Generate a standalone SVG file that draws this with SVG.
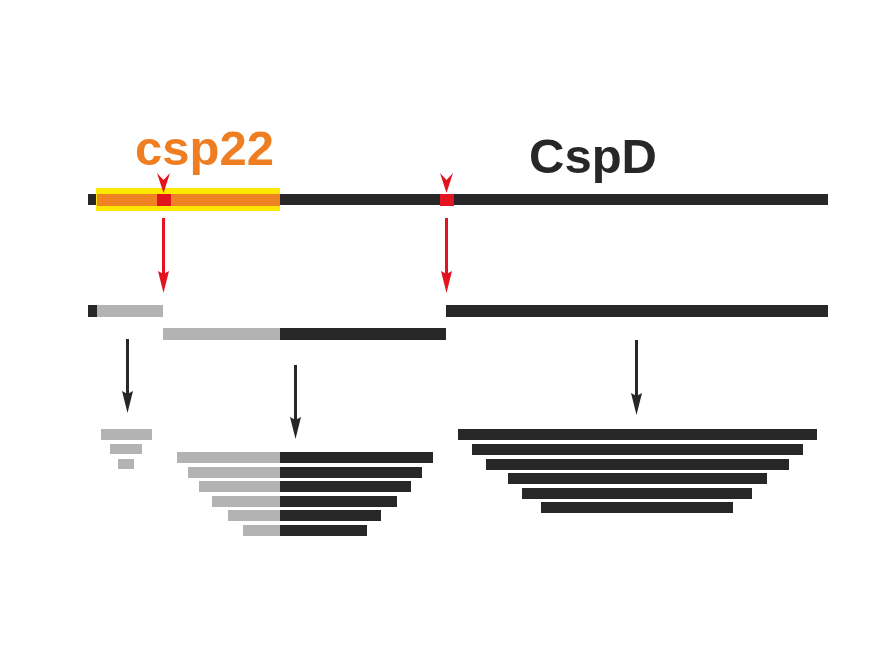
<svg xmlns="http://www.w3.org/2000/svg" width="893" height="657" viewBox="0 0 893 657">
<defs>
<style>
.blk{fill:#272727}
.gry{fill:#b3b3b3}
.red{fill:#e3141f}
.lbl{font-family:"Liberation Sans",Arial,sans-serif;font-weight:bold;font-size:49px}
.ra{stroke:#e3141f;stroke-width:3;fill:none}
.ba{stroke:#272727;stroke-width:3;fill:none}
</style>
<marker id="mr" markerUnits="userSpaceOnUse" markerWidth="22" markerHeight="12" viewBox="0 0 22 12" refX="8" refY="6" orient="auto">
<path d="M0,0.5 L22,6 L0,11.5 L3,6 z" fill="#e3141f"/>
</marker>
<marker id="mb" markerUnits="userSpaceOnUse" markerWidth="22" markerHeight="12" viewBox="0 0 22 12" refX="8" refY="6" orient="auto">
<path d="M0,0.5 L22,6 L0,11.5 L3,6 z" fill="#272727"/>
</marker>
</defs>
<rect width="893" height="657" fill="#ffffff"/>

<g id="labels">
<text class="lbl" x="135" y="165" fill="#ef7d22">csp22</text>
<text class="lbl" x="529" y="173" fill="#272727">CspD</text>
</g>

<g id="precursor">
<rect class="blk" x="88" y="194" width="740" height="11"/>
<rect x="96" y="188" width="184" height="23" fill="#ffe800"/>
<rect x="97" y="194" width="183" height="12" fill="#f08424"/>
<rect class="red" x="157" y="194" width="14" height="12"/>
<rect class="red" x="440" y="194" width="14" height="12"/>
<polygon class="red" points="157,173 163.5,180 170,173 163.5,193"/>
<polygon class="red" points="440,173 446.5,180 453,173 446.5,193"/>
</g>

<g id="fragments">
<rect class="blk" x="88" y="305" width="9" height="12"/>
<rect class="gry" x="97" y="305" width="66" height="12"/>
<rect class="blk" x="446" y="305" width="382" height="12"/>
<rect class="gry" x="163" y="328" width="117" height="12"/>
<rect class="blk" x="280" y="328" width="166" height="12"/>
</g>

<g id="stack-left">
<rect class="gry" x="101" y="429" width="51" height="11"/>
<rect class="gry" x="110" y="444" width="32" height="10"/>
<rect class="gry" x="118" y="459" width="16" height="10"/>
</g>

<g id="stack-middle">
<rect class="gry" x="177" y="452" width="103" height="11"/><rect class="blk" x="280" y="452" width="153" height="11"/>
<rect class="gry" x="188" y="467" width="92" height="11"/><rect class="blk" x="280" y="467" width="142" height="11"/>
<rect class="gry" x="199" y="481" width="81" height="11"/><rect class="blk" x="280" y="481" width="131" height="11"/>
<rect class="gry" x="212" y="496" width="68" height="11"/><rect class="blk" x="280" y="496" width="117" height="11"/>
<rect class="gry" x="228" y="510" width="52" height="11"/><rect class="blk" x="280" y="510" width="101" height="11"/>
<rect class="gry" x="243" y="525" width="37" height="11"/><rect class="blk" x="280" y="525" width="87" height="11"/>
</g>

<g id="stack-right">
<rect class="blk" x="458" y="429" width="359" height="11"/>
<rect class="blk" x="472" y="444" width="331" height="11"/>
<rect class="blk" x="486" y="459" width="303" height="11"/>
<rect class="blk" x="508" y="473" width="259" height="11"/>
<rect class="blk" x="522" y="488" width="230" height="11"/>
<rect class="blk" x="541" y="502" width="192" height="11"/>
</g>

<g id="connectors">
<line class="ra" x1="163.5" y1="218" x2="163.5" y2="279" marker-end="url(#mr)"/>
<line class="ra" x1="446.5" y1="218" x2="446.5" y2="279" marker-end="url(#mr)"/>
<line class="ba" x1="127.5" y1="339" x2="127.5" y2="399" marker-end="url(#mb)"/>
<line class="ba" x1="295.5" y1="365" x2="295.5" y2="425" marker-end="url(#mb)"/>
<line class="ba" x1="636.5" y1="340" x2="636.5" y2="401" marker-end="url(#mb)"/>
</g>
</svg>
